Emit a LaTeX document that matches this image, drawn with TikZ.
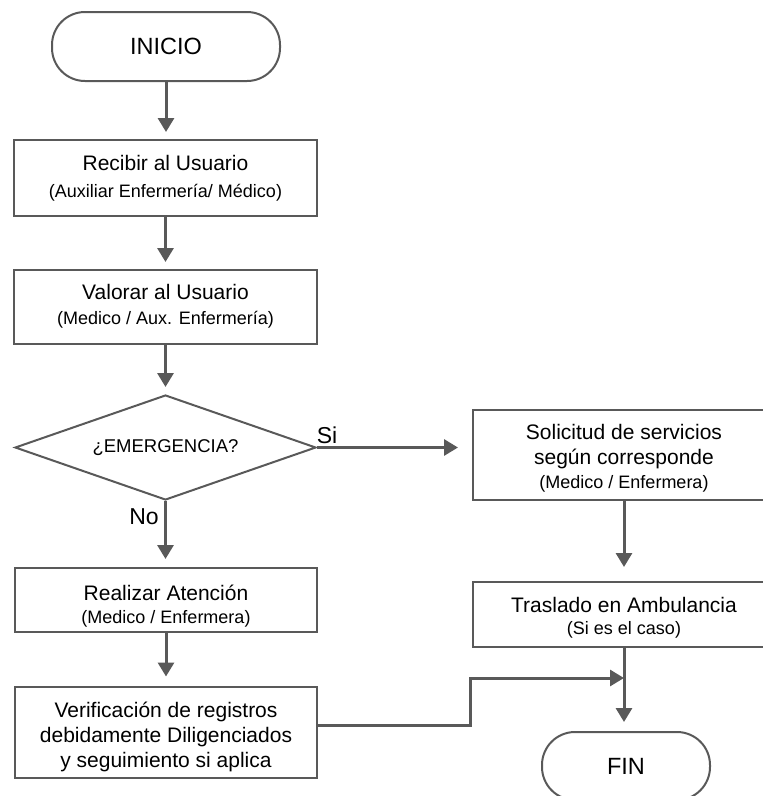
\documentclass[tikz,border=0pt]{standalone}
\usepackage{fontspec}
\setmainfont{Liberation Sans}
\usetikzlibrary{shapes.geometric,arrows.meta}
\definecolor{linegray}{HTML}{595959}
\newcommand{\subtxt}[1]{{\fontsize{18}{25}\selectfont #1}}
\tikzset{
  box/.style={draw=linegray, line width=2pt, rectangle, inner sep=0pt},
  txt/.style={align=center, inner sep=0pt, font=\fontsize{21}{25}\selectfont},
  term/.style={draw=linegray, line width=2pt, rectangle, rounded corners=33pt, inner sep=0pt, font=\fontsize{23.5}{28}\selectfont},
  decision/.style={draw=linegray, line width=2pt, diamond, aspect=2.9, inner sep=0pt, font=\fontsize{18.5}{22}\selectfont},
  arr/.style={draw=linegray, line width=3pt, -{Triangle[length=14pt,width=16pt]}},
  lbl/.style={font=\fontsize{23}{28}\selectfont, inner sep=0pt},
}
\begin{document}
\begin{tikzpicture}[x=1pt,y=-1pt]
\useasboundingbox (0,0) rectangle (763,796);
\clip (0,0) rectangle (763,796);

\node[term, minimum width=228pt, minimum height=69pt] (inicio) at (166,46.5) {INICIO};
\node[box, minimum width=303pt, minimum height=76pt] (recibir) at (165.5,178) {};
\node[txt] (recibirtxt) at ([yshift=0pt]recibir.center) {Recibir al Usuario\\[2pt] \subtxt{(Auxiliar Enfermería/ Médico)}};
\node[box, minimum width=303pt, minimum height=74pt] (valorar) at (165.5,307) {};
\node[txt] (valorartxt) at ([yshift=0.5pt]valorar.center) {Valorar al Usuario\\ \subtxt{(Medico / Aux. Enfermería)}};
\node[decision, minimum width=301pt, minimum height=105pt] (dec) at (165.5,447.5) {¿EMERGENCIA?};
\node[box, minimum width=302pt, minimum height=64pt] (realizar) at (166,600) {};
\node[txt] (realizartxt) at ([yshift=-6pt]realizar.center) {Realizar Atención\\[-2pt] \subtxt{(Medico / Enfermera)}};
\node[box, minimum width=302pt, minimum height=91pt] (verif) at (166,732) {};
\node[txt] (veriftxt) at ([yshift=-4.5pt]verif.center) {Verificación de registros\\ debidamente Diligenciados\\ y seguimiento si aplica};
\node[box, minimum width=302pt, minimum height=90pt] (solicitud) at (624,455) {};
\node[txt] (solicitudtxt) at ([yshift=-3pt]solicitud.center) {Solicitud de servicios\\ según corresponde\\[-1pt] \subtxt{(Medico / Enfermera)}};
\node[box, minimum width=302pt, minimum height=65pt] (traslado) at (624,614.5) {};
\node[txt] (trasladotxt) at ([yshift=-3.5pt]traslado.center) {Traslado en Ambulancia\\[-3pt] \subtxt{(Si es el caso)}};
\node[term, minimum width=168pt, minimum height=68pt] (fin) at (626,766) {FIN};

\node[lbl] (si) at (327,435) {Si};
\node[lbl] (no) at (144,517) {No};

\coordinate (junction) at (624,678);
\coordinate (bend) at (470,700);

\draw[arr, shorten >=7pt] (inicio.south) -- (inicio.south |- recibir.north);
\draw[arr, shorten >=7pt] (recibir.south) -- (valorar.north);
\draw[arr, shorten >=7pt] (valorar.south) -- (dec.north);
\draw[arr, shorten >=14pt] (dec.east) -- (solicitud.west |- dec.east);
\draw[arr, shorten >=8pt] (dec.south) -- (dec.south |- realizar.north);
\draw[arr, shorten >=9pt] (realizar.south) -- (verif.north);
\draw[arr, shorten >=14pt] (solicitud.south) -- (traslado.north);
\draw[arr, shorten >=9pt] (traslado.south) -- (traslado.south |- fin.north);
\draw[arr] ([yshift=7pt]verif.east) -| (bend) |- (junction);
\end{tikzpicture}
\end{document}
